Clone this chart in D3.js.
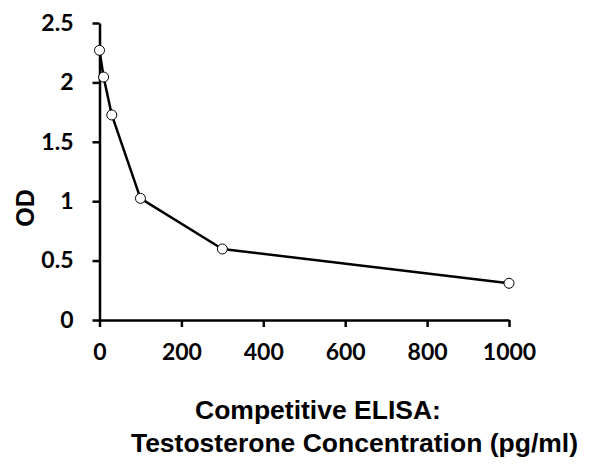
<!DOCTYPE html>
<html>
<head>
<meta charset="utf-8">
<script src="https://cdn.jsdelivr.net/npm/d3@7/dist/d3.min.js"></script>
<style>
  html, body { margin: 0; padding: 0; background: #fff; }
  svg { display: block; }
</style>
</head>
<body>
<svg id="chart" width="600" height="475"></svg>
<script>
// Data
const concentration = [0, 10, 30, 100, 300, 1000];
const odValues = [2.27, 2.045, 1.726, 1.024, 0.598, 0.309];
const xTicks = [0, 200, 400, 600, 800, 1000];
const yTicks = [0, 0.5, 1, 1.5, 2, 2.5];
const titleLines = ["Competitive ELISA:", "Testosterone Concentration (pg/ml)"];
const yLabel = "OD";

const svg = d3.select("#chart");
const x = d3.scaleLinear().domain([0, 1000]).range([99.5, 509]);
const y = d3.scaleLinear().domain([0, 2.5]).range([320, 23]);

const tickFont = "Lato, 'Liberation Sans', Arial, sans-serif";
const titleFont = "'Liberation Sans', Arial, sans-serif";

// Y axis
const yAxis = svg.append("g")
  .attr("transform", `translate(${x(0)},0)`)
  .call(d3.axisLeft(y).tickValues(yTicks).tickSize(7).tickPadding(19).tickSizeOuter(0).tickFormat(d3.format("")));
// X axis
const xAxis = svg.append("g")
  .attr("transform", `translate(0,${y(0)})`)
  .call(d3.axisBottom(x).tickValues(xTicks).tickSize(7).tickPadding(17).tickSizeOuter(0).tickFormat(d3.format("")));

[yAxis, xAxis].forEach(g => {
  g.select(".domain").attr("stroke", "#000").attr("stroke-width", 2.5);
  g.selectAll(".tick line").attr("stroke", "#000").attr("stroke-width", 2.5);
  g.selectAll(".tick text")
    .attr("fill", "#000")
    .style("font-family", tickFont)
    .style("font-weight", "bold")
    .style("font-size", "23px");
});

// Line
const line = d3.line().x((d, i) => x(concentration[i])).y(d => y(d));
svg.append("path")
  .datum(odValues)
  .attr("fill", "none")
  .attr("stroke", "#000")
  .attr("stroke-width", 2.5)
  .attr("stroke-linejoin", "round")
  .attr("d", line);

// Markers
svg.selectAll("circle.pt")
  .data(odValues)
  .enter().append("circle")
  .attr("class", "pt")
  .attr("cx", (d, i) => x(concentration[i]))
  .attr("cy", d => y(d))
  .attr("r", 5)
  .attr("fill", "#fff")
  .attr("stroke", "#000")
  .attr("stroke-width", 1);

// Y label
svg.append("text")
  .attr("transform", "translate(25,208) rotate(-90)")
  .attr("text-anchor", "middle")
  .attr("dominant-baseline", "central")
  .style("font-family", titleFont)
  .style("font-weight", "bold")
  .style("font-size", "25px")
  .text(yLabel);

// X title
svg.append("text")
  .attr("x", 195).attr("y", 419)
  .attr("text-anchor", "start")
  .style("font-family", titleFont)
  .style("font-weight", "bold")
  .style("font-size", "26.5px")
  .text(titleLines[0]);
svg.append("text")
  .attr("x", 578).attr("y", 452)
  .attr("text-anchor", "end")
  .style("font-family", titleFont)
  .style("font-weight", "bold")
  .style("font-size", "26.5px")
  .text(titleLines[1]);
</script>
</body>
</html>
